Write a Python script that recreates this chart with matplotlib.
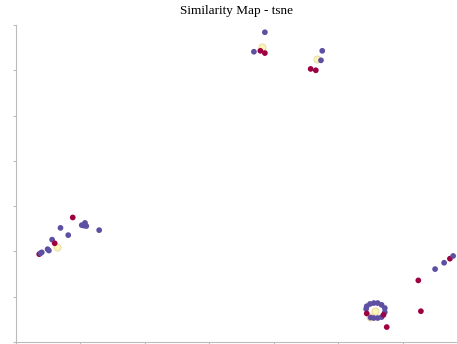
import matplotlib
matplotlib.use('Agg')
import matplotlib.pyplot as plt
import numpy as np

# t-SNE embedding (0 = red, 1 = yellow, 2 = purple)
x_vals = [8.8, 6.9, 10.2, 10.7, 10.9, 10.5, 12.9, 8.1, 5.6, 6.0, 6.3, 4.9, 5.1, 4.0, 3.6, 3.8,
          38.6, 38.2, 36.9, 37.9, 38.6, 47.5, 46.7, 47.3, 45.7, 46.5,
          55.7, 54.3, 54.4, 54.9, 55.5, 56.1, 56.7, 57.2, 57.2, 56.7, 56.1, 55.5, 55.0,
          54.9, 54.4, 57.0, 57.5, 62.4, 62.8, 65.0, 66.4, 67.3, 67.8]
y_vals = [27.5, 25.2, 25.8, 26.3, 25.6, 25.7, 24.7, 23.6, 22.6, 21.8, 21.0, 20.5, 20.2, 19.8, 19.4, 19.6,
          68.4, 65.1, 64.1, 64.3, 63.8, 64.3, 62.5, 62.2, 60.3, 60.0,
          6.8, 7.3, 7.9, 8.4, 8.6, 8.6, 8.2, 7.5, 6.6, 5.5, 5.3, 5.3, 5.4,
          5.5, 6.3, 6.0, 3.3, 13.6, 6.8, 16.1, 17.5, 18.4, 19.0]
labels = [0, 2, 2, 2, 2, 2, 2, 2, 2, 0, 1, 2, 2, 2, 0, 2,
          2, 1, 2, 0, 0, 2, 1, 2, 0, 0,
          1, 2, 2, 2, 2, 2, 2, 2, 2, 2, 2, 2, 2,
          1, 0, 0, 0, 0, 0, 2, 2, 0, 2]

x_vals = np.array(x_vals)
y_vals = np.array(y_vals)
labels = np.array(labels)
cmap = plt.get_cmap('Spectral')

fig = plt.figure(figsize=(4.57, 3.44), dpi=100)
ax = fig.add_axes([16 / 457, 2 / 344, 441 / 457, 317 / 344])

# yellow class first, so it sits behind the others
yel = labels == 1
ax.scatter(x_vals[yel], y_vals[yel], color='#fdf5b8', s=26, edgecolors='#e3d79a', linewidths=0.6, zorder=2)
ax.scatter(x_vals[~yel], y_vals[~yel], c=labels[~yel], cmap=cmap, vmin=0, vmax=2, s=17, linewidths=0, zorder=3)

ax.set_xlim(0, 68.4)
ax.set_ylim(0, 70)
ax.set_xticks(np.arange(0, 61, 10))
ax.set_yticks(np.arange(0, 71, 10))
ax.set_xticklabels([])
ax.set_yticklabels([])
ax.tick_params(length=2, color='#bbbbbb')
for side in ['top', 'right']:
    ax.spines[side].set_visible(False)
for side in ['left', 'bottom']:
    ax.spines[side].set_color('#bbbbbb')

ax.set_title('Similarity Map - tsne', fontsize=9.5, family='Liberation Serif', pad=8)

plt.savefig('out.png', dpi=100)
